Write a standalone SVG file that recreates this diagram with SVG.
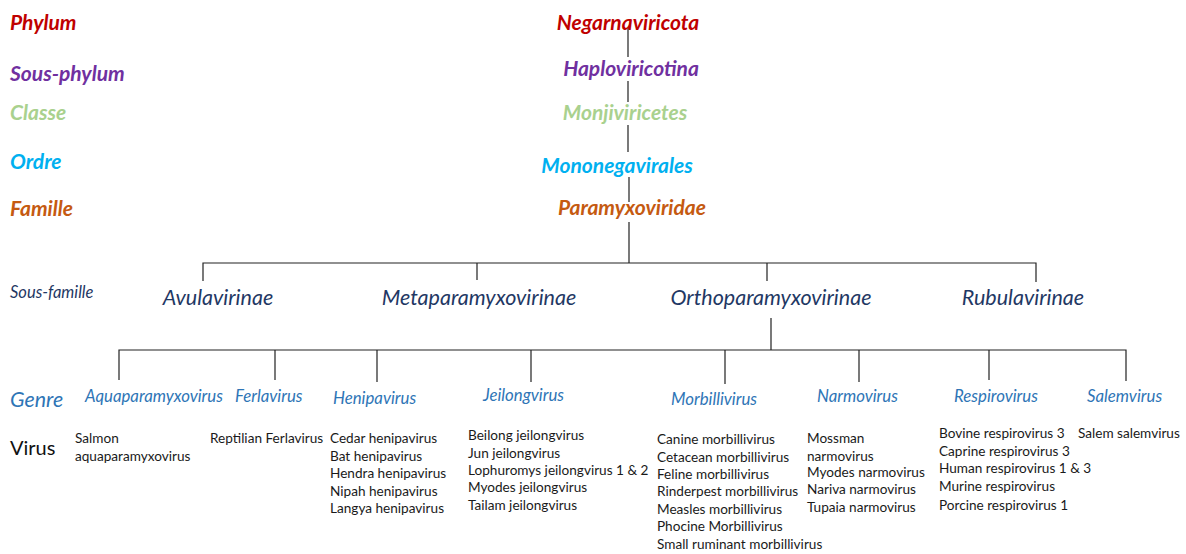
<svg xmlns="http://www.w3.org/2000/svg" width="1186" height="554" viewBox="0 0 1186 554">
<style>
text{font-family:Lato,"Liberation Sans",sans-serif}
.rank{font-weight:bold;font-style:italic;font-size:21px}
.sub{font-style:italic;font-size:21.5px;fill:#1F3864}
.gen{font-style:italic;font-size:16.8px;fill:#2E75B6}
.vir{font-size:13.6px;fill:#1a1a1a}
.ln{stroke:#222;stroke-width:1.2;fill:none}
</style>
<rect width="1186" height="554" fill="#fff"/>
<g id="legend">
<text class="rank" x="10" y="30" fill="#C00000">Phylum</text>
<text class="rank" x="10" y="81" fill="#7030A0">Sous-phylum</text>
<text class="rank" x="10" y="120" fill="#A9D18E">Classe</text>
<text class="rank" x="10" y="169" fill="#00B0F0">Ordre</text>
<text class="rank" x="10" y="216" fill="#C55A11">Famille</text>
<text x="10" y="298" font-style="italic" font-size="16.5" fill="#1F3864">Sous-famille</text>
<text x="10" y="407" font-style="italic" font-size="21.4" fill="#2E75B6">Genre</text>
<text x="10" y="455" font-size="20" fill="#111">Virus</text>
</g>
<g id="connectors" class="ln">
<path d="M628 28V57M628 81V102M628 125V152M629 177V202M629 222V263"/>
<path d="M203 281V263H1036V282M477 263V280M767 263V281"/>
<path d="M771 318V350M119 380V350H1126V381M275 350V380M377 350V382M531 350V382M725 350V384M859 350V382M989 350V380"/>
</g>
<g id="n-negarnaviricota"><text class="rank" x="628" y="30" text-anchor="middle" fill="#C00000">Negarnaviricota</text></g>
<g id="n-haplovirocotina"><text class="rank" x="631" y="76" text-anchor="middle" fill="#7030A0">Haploviricotina</text></g>
<g id="n-monjiviricetes"><text class="rank" x="625" y="120" text-anchor="middle" fill="#A9D18E">Monjiviricetes</text></g>
<g id="n-mononegavirales"><text class="rank" x="617" y="173" text-anchor="middle" fill="#00B0F0">Mononegavirales</text></g>
<g id="n-paramyxoviridae"><text class="rank" x="632" y="215" text-anchor="middle" fill="#C55A11">Paramyxoviridae</text></g>
<g id="n-avulavirinae"><text class="sub" x="218" y="305" text-anchor="middle">Avulavirinae</text></g>
<g id="n-metaparamyxovirinae"><text class="sub" x="479" y="305" text-anchor="middle">Metaparamyxovirinae</text></g>
<g id="n-orthoparamyxovirinae"><text class="sub" x="771" y="305" text-anchor="middle">Orthoparamyxovirinae</text></g>
<g id="n-rubulavirinae"><text class="sub" x="1023" y="305" text-anchor="middle">Rubulavirinae</text></g>
<g id="n-aquaparamyxovirus"><text class="gen" x="85" y="402">Aquaparamyxovirus</text>
<text class="vir" x="75" y="443">Salmon</text><text class="vir" x="75" y="461">aquaparamyxovirus</text></g>
<g id="n-ferlavirus"><text class="gen" x="235" y="402">Ferlavirus</text>
<text class="vir" x="210" y="443">Reptilian Ferlavirus</text></g>
<g id="n-henipavirus"><text class="gen" x="333" y="404">Henipavirus</text>
<text class="vir" x="330" y="443">Cedar henipavirus</text><text class="vir" x="330" y="461">Bat henipavirus</text><text class="vir" x="330" y="478">Hendra henipavirus</text><text class="vir" x="330" y="496">Nipah henipavirus</text><text class="vir" x="330" y="513">Langya henipavirus</text></g>
<g id="n-jeilongvirus"><text class="gen" x="483" y="401">Jeilongvirus</text>
<text class="vir" x="468" y="440">Beilong jeilongvirus</text><text class="vir" x="468" y="458">Jun jeilongvirus</text><text class="vir" x="468" y="475">Lophuromys jeilongvirus 1 &amp; 2</text><text class="vir" x="468" y="492">Myodes jeilongvirus</text><text class="vir" x="468" y="510">Tailam jeilongvirus</text></g>
<g id="n-morbillivirus"><text class="gen" x="671" y="405">Morbillivirus</text>
<text class="vir" x="657" y="444">Canine morbillivirus</text><text class="vir" x="657" y="462">Cetacean morbillivirus</text><text class="vir" x="657" y="479">Feline morbillivirus</text><text class="vir" x="657" y="496">Rinderpest morbillivirus</text><text class="vir" x="657" y="514">Measles morbillivirus</text><text class="vir" x="657" y="531">Phocine Morbillivirus</text><text class="vir" x="657" y="549">Small ruminant morbillivirus</text></g>
<g id="n-narmovirus"><text class="gen" x="817" y="402">Narmovirus</text>
<text class="vir" x="807" y="443">Mossman</text><text class="vir" x="807" y="461">narmovirus</text><text class="vir" x="807" y="477">Myodes narmovirus</text><text class="vir" x="807" y="494">Nariva narmovirus</text><text class="vir" x="807" y="512">Tupaia narmovirus</text></g>
<g id="n-respirovirus"><text class="gen" x="954" y="402">Respirovirus</text>
<text class="vir" x="939" y="438">Bovine respirovirus 3</text><text class="vir" x="939" y="456">Caprine respirovirus 3</text><text class="vir" x="939" y="473">Human respirovirus 1 &amp; 3</text><text class="vir" x="939" y="491">Murine respirovirus</text><text class="vir" x="939" y="510">Porcine respirovirus 1</text></g>
<g id="n-salemvirus"><text class="gen" x="1087" y="402">Salemvirus</text>
<text class="vir" x="1078" y="438">Salem salemvirus</text></g>
</svg>
